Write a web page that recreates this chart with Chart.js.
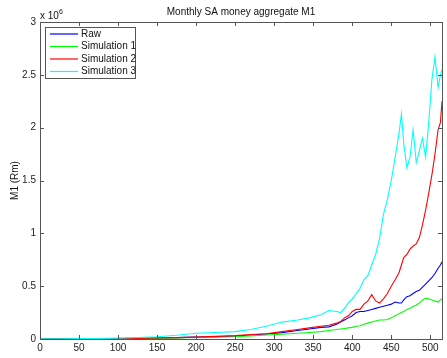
<!DOCTYPE html>
<html>
<head>
<meta charset="utf-8">
<script src="https://cdn.jsdelivr.net/npm/chart.js@4"></script>
<style>
  html, body { margin: 0; padding: 0; background: #fff; }
  #wrap { width: 447px; height: 358px; }
</style>
</head>
<body>
<div id="wrap"><canvas id="m1Chart" width="447" height="358"></canvas></div>
<script>
const FONT = "'Liberation Sans', Arial, Helvetica, sans-serif";

// months since start of sample
const months = [0, 25, 50, 75, 100, 125, 150, 175, 200, 225, 250, 270, 290, 310, 330, 345, 360, 370, 380, 385,
  390, 395, 400, 405, 410, 415, 420, 425, 430, 435, 440, 445, 450, 455, 460, 463, 466, 470, 474, 478,
  482, 486, 490, 494, 498, 502, 506, 510, 513, 515];

// M1 in millions of Rm
const raw = [0.001, 0.001, 0.002, 0.003, 0.004, 0.006, 0.009, 0.013, 0.018, 0.022, 0.028, 0.038, 0.048, 0.06, 0.08, 0.095, 0.11, 0.115, 0.14, 0.16,
  0.18, 0.2, 0.22, 0.25, 0.26, 0.26, 0.27, 0.28, 0.29, 0.3, 0.31, 0.32, 0.33, 0.35, 0.34, 0.34, 0.37, 0.4, 0.41, 0.43,
  0.45, 0.46, 0.49, 0.52, 0.55, 0.58, 0.62, 0.67, 0.7, 0.73];
const sim1 = [0.001, 0.001, 0.002, 0.002, 0.003, 0.005, 0.007, 0.01, 0.014, 0.018, 0.022, 0.03, 0.038, 0.045, 0.055, 0.062, 0.07, 0.08, 0.09, 0.095,
  0.1, 0.105, 0.11, 0.12, 0.125, 0.14, 0.15, 0.16, 0.17, 0.18, 0.18, 0.185, 0.2, 0.22, 0.24, 0.25, 0.26, 0.28, 0.29, 0.31,
  0.32, 0.34, 0.37, 0.385, 0.38, 0.37, 0.36, 0.35, 0.37, 0.385];
const sim2 = [0.001, 0.001, 0.002, 0.003, 0.004, 0.006, 0.009, 0.013, 0.018, 0.025, 0.032, 0.042, 0.05, 0.07, 0.09, 0.105, 0.12, 0.13, 0.15, 0.165,
  0.2, 0.22, 0.26, 0.28, 0.28, 0.33, 0.36, 0.42, 0.36, 0.34, 0.38, 0.43, 0.5, 0.56, 0.63, 0.7, 0.77, 0.8, 0.85, 0.88,
  0.9, 0.96, 1.08, 1.22, 1.38, 1.55, 1.75, 1.98, 2.05, 2.25];
const sim3 = [0.002, 0.003, 0.004, 0.005, 0.008, 0.014, 0.022, 0.035, 0.055, 0.062, 0.07, 0.09, 0.12, 0.16, 0.18, 0.2, 0.23, 0.27, 0.26, 0.25,
  0.29, 0.34, 0.38, 0.43, 0.48, 0.56, 0.6, 0.7, 0.8, 0.95, 1.18, 1.32, 1.5, 1.72, 1.95, 2.13, 1.85, 1.62, 1.72, 1.98,
  1.67, 1.78, 1.9, 1.72, 2.05, 2.45, 2.67, 2.38, 2.5, 2.55];

const seriesNames = ["Raw", "Simulation 1", "Simulation 2", "Simulation 3"];
const seriesColors = ["#0000ff", "#00ff00", "#ff0000", "#00ffff"];
const seriesValues = [raw, sim1, sim2, sim3];

// matlab-style frame: box, inward ticks, legend, labels
const matlabFrame = {
  id: "matlabFrame",
  afterDraw(chart) {
    const ctx = chart.ctx;
    const a = chart.chartArea;
    const xs = chart.scales.x, ys = chart.scales.y;
    const tl = 4;
    ctx.save();
    ctx.strokeStyle = "#555";
    ctx.lineWidth = 1;
    ctx.strokeRect(Math.round(a.left) + 0.5, Math.round(a.top) + 0.5,
      Math.round(a.right - a.left), Math.round(a.bottom - a.top));
    ctx.beginPath();
    xs.ticks.forEach(t => {
      const px = Math.round(xs.getPixelForValue(t.value)) + 0.5;
      ctx.moveTo(px, a.bottom); ctx.lineTo(px, a.bottom - tl);
      ctx.moveTo(px, a.top); ctx.lineTo(px, a.top + tl);
    });
    ys.ticks.forEach(t => {
      const py = Math.round(ys.getPixelForValue(t.value)) + 0.5;
      ctx.moveTo(a.left, py); ctx.lineTo(a.left + tl, py);
      ctx.moveTo(a.right, py); ctx.lineTo(a.right - tl, py);
    });
    ctx.stroke();

    // title
    ctx.fillStyle = "#111";
    ctx.font = "10px " + FONT;
    ctx.textAlign = "center";
    ctx.textBaseline = "middle";
    ctx.fillText("Monthly SA money aggregate M1", (a.left + a.right) / 2, 12);

    // exponent
    ctx.textAlign = "left";
    ctx.fillText("x 10", 40, 16);
    ctx.font = "7px " + FONT;
    ctx.fillText("6", 59, 12);

    // y axis title
    ctx.font = "10px " + FONT;
    ctx.save();
    ctx.translate(15, (a.top + a.bottom) / 2);
    ctx.rotate(-Math.PI / 2);
    ctx.textAlign = "center";
    ctx.fillText("M1 (Rm)", 0, 0);
    ctx.restore();

    // legend box
    const lx = 45, ly = 27, lw = 90, lh = 51;
    ctx.fillStyle = "#fff";
    ctx.fillRect(lx, ly, lw, lh);
    ctx.strokeStyle = "#555";
    ctx.strokeRect(lx + 0.5, ly + 0.5, lw, lh);
    chart.data.datasets.forEach((ds, i) => {
      const yy = 34 + i * 12.5;
      ctx.strokeStyle = ds.borderColor;
      ctx.lineWidth = 1.2;
      ctx.beginPath();
      ctx.moveTo(50, yy); ctx.lineTo(78, yy);
      ctx.stroke();
      ctx.fillStyle = "#111";
      ctx.textAlign = "left";
      ctx.textBaseline = "middle";
      ctx.fillText(ds.label, 81, yy);
    });
    ctx.restore();
  }
};

new Chart(document.getElementById("m1Chart").getContext("2d"), {
  type: "line",
  data: {
    labels: months,
    datasets: seriesNames.map((name, i) => ({
      label: name,
      data: seriesValues[i],
      borderColor: seriesColors[i],
      borderWidth: 1.1,
      pointRadius: 0,
      tension: 0,
      fill: false,
      order: 3 - i
    }))
  },
  options: {
    responsive: false,
    animation: false,
    layout: { padding: { top: 22, right: 5, left: 0, bottom: 0 } },
    plugins: {
      legend: { display: false },
      title: { display: false },
      tooltip: { enabled: false }
    },
    scales: {
      x: {
        type: "linear",
        min: 0,
        max: 515,
        grid: { display: false, drawTicks: false },
        border: { display: false },
        ticks: {
          stepSize: 50,
          includeBounds: false,
          padding: 3,
          maxRotation: 0,
          color: "#222",
          font: { family: FONT, size: 10 }
        },
        afterFit(scale) { scale.height = 19; }
      },
      y: {
        min: 0,
        max: 3,
        grid: { display: false, drawTicks: false },
        border: { display: false },
        ticks: {
          stepSize: 0.5,
          padding: 4,
          color: "#222",
          font: { family: FONT, size: 10 },
          callback: v => String(+v.toFixed(1))
        },
        afterFit(scale) { scale.width = 40; }
      }
    }
  },
  plugins: [matlabFrame]
});
</script>
</body>
</html>
